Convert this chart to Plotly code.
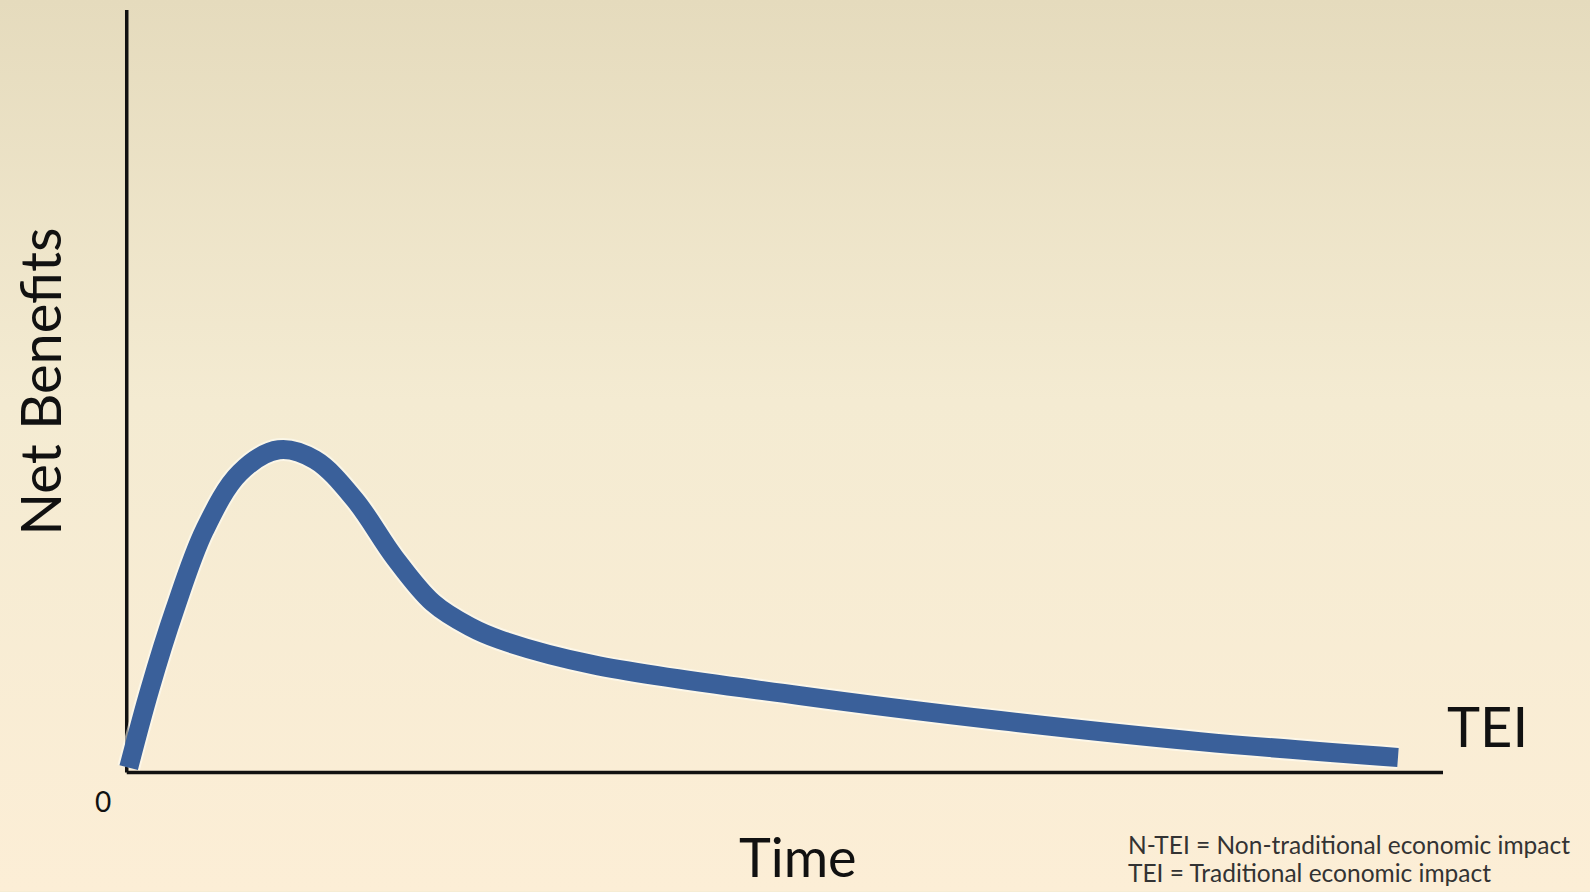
import base64
import plotly.graph_objects as go

# Net benefits over time (arbitrary units): quick rise, peak, then a long tail
time = [0.15, 1.75, 3.65, 5.93, 8.59, 11.55, 14.29, 17.33, 20.36, 23.25,
        26.06, 28.34, 35.41, 51.14, 66.34, 81.53, 96.58]
net_benefit = [0.66, 10.88, 21.36, 31.85, 39.32, 42.33, 41.02, 35.78, 28.18, 22.28,
               19.13, 17.43, 14.15, 10.09, 6.82, 4.06, 1.97]

x_title = "Time"
y_title = "Net Benefits"
curve_label = "TEI"
origin_label = "0"
notes = ["N-TEI = Non-traditional economic impact",
         "TEI = Traditional economic impact"]

W, H = 1590, 892
FONT = "Lato, 'Open Sans', sans-serif"

# plot-area geometry in pixels
X_RANGE = [-1.5, 100]
Y_RANGE = [-1.5, 100]
PX_PER_X = 13.16
PX_PER_Y = 7.63
ORIGIN_PX = (127, 773)
left = ORIGIN_PX[0] + X_RANGE[0] * PX_PER_X
right = ORIGIN_PX[0] + X_RANGE[1] * PX_PER_X
bottom = ORIGIN_PX[1] - Y_RANGE[0] * PX_PER_Y
top = ORIGIN_PX[1] - Y_RANGE[1] * PX_PER_Y
plot_w = right - left
plot_h = bottom - top


def paper_x(px):
    return (px - left) / plot_w


def paper_y(py):
    return (bottom - py) / plot_h


# vertical background gradient as an inline svg
svg = (
    "<svg xmlns='http://www.w3.org/2000/svg' width='100' height='100' "
    "viewBox='0 0 100 100' preserveAspectRatio='none'>"
    "<defs><linearGradient id='g' x1='0' y1='0' x2='0' y2='1'>"
    "<stop offset='0' stop-color='#E5DBBD'/>"
    "<stop offset='0.45' stop-color='#F4EBD2'/>"
    "<stop offset='1' stop-color='#FCEED6'/>"
    "</linearGradient></defs>"
    "<rect width='100' height='100' fill='url(#g)'/></svg>"
)
bg_src = "data:image/svg+xml;base64," + base64.b64encode(svg.encode()).decode()

fig = go.Figure()

# soft light halo under the curve
fig.add_trace(go.Scatter(
    x=time, y=net_benefit, mode="lines",
    line=dict(color="rgba(255,255,248,0.55)", width=23, shape="spline", smoothing=1),
    hoverinfo="skip", showlegend=False,
))
fig.add_trace(go.Scatter(
    x=time, y=net_benefit, mode="lines",
    line=dict(color="#3A609A", width=19, shape="spline", smoothing=1),
    showlegend=False,
))

shapes = [
    dict(type="line", xref="x", yref="y", x0=0, y0=0, x1=0, y1=Y_RANGE[1],
         line=dict(color="#111111", width=3.5), layer="below"),
    dict(type="line", xref="x", yref="y", x0=0, y0=0, x1=X_RANGE[1], y1=0,
         line=dict(color="#111111", width=3.5), layer="below"),
]

annotations = [
    dict(text=x_title, x=paper_x(798), y=paper_y(857), xref="paper", yref="paper",
         showarrow=False, xanchor="center", yanchor="middle",
         font=dict(family=FONT, size=54, color="#111111")),
    dict(text=y_title, x=paper_x(40), y=paper_y(382), xref="paper", yref="paper",
         showarrow=False, xanchor="center", yanchor="middle", textangle=-90,
         font=dict(family=FONT, size=56, color="#111111")),
    dict(text=curve_label, x=paper_x(1487), y=paper_y(726), xref="paper", yref="paper",
         showarrow=False, xanchor="center", yanchor="middle",
         font=dict(family=FONT, size=56, color="#111111")),
    dict(text=origin_label, x=paper_x(103), y=paper_y(801), xref="paper", yref="paper",
         showarrow=False, xanchor="center", yanchor="middle",
         font=dict(family=FONT, size=28, color="#111111")),
]
for i, note in enumerate(notes):
    annotations.append(dict(
        text=note, x=paper_x(1126), y=paper_y(845 + 28 * i), xref="paper", yref="paper",
        showarrow=False, xanchor="left", yanchor="middle",
        font=dict(family=FONT, size=24.5, color="#333333"),
    ))

fig.update_layout(
    width=W, height=H,
    margin=dict(l=left, r=W - right, t=top, b=H - bottom, pad=0, autoexpand=False),
    paper_bgcolor="#F4EBD2",
    plot_bgcolor="rgba(0,0,0,0)",
    xaxis=dict(range=X_RANGE, visible=False, fixedrange=True),
    yaxis=dict(range=Y_RANGE, visible=False, fixedrange=True),
    shapes=shapes,
    annotations=annotations,
    images=[dict(source=bg_src, xref="paper", yref="paper",
                 x=paper_x(0), y=paper_y(0), sizex=W / plot_w, sizey=H / plot_h,
                 xanchor="left", yanchor="top", sizing="stretch", layer="below")],
    showlegend=False,
)

fig.write_html("out.html", config=dict(displayModeBar=False))
